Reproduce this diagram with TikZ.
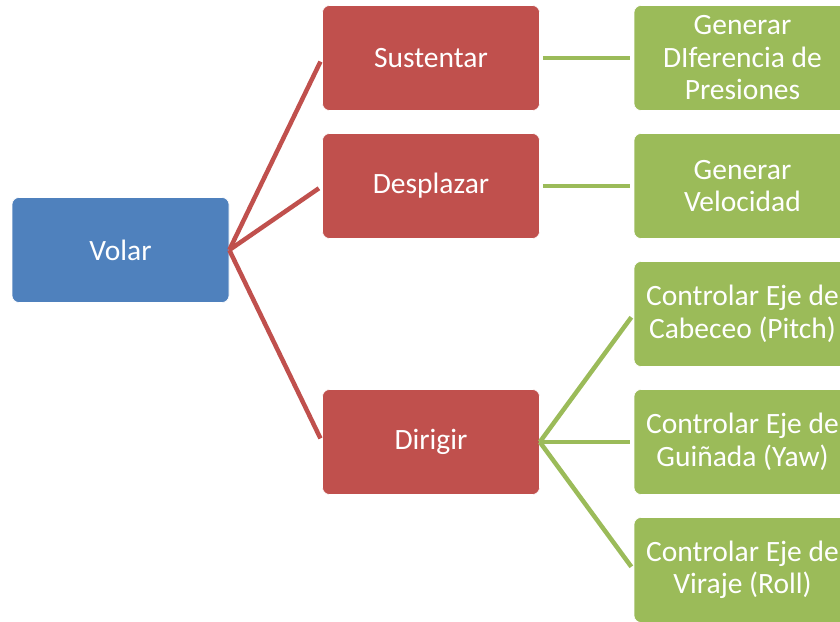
\documentclass[tikz,border=0pt]{standalone}
\usepackage{fontspec}
\setmainfont{Carlito}
\definecolor{cblue}{HTML}{4F81BD}
\definecolor{cred}{HTML}{C0504D}
\definecolor{cgreen}{HTML}{9BBB59}
\begin{document}
\begin{tikzpicture}[x=1pt,y=1pt,
  box/.style={rounded corners=7pt, minimum width=217pt, minimum height=105pt, inner sep=0pt,
    draw=white, line width=0.6pt, text=white, align=center,
    font=\fontsize{29.5}{32.5}\selectfont},
  bluebox/.style={box, fill=cblue},
  redbox/.style={box, fill=cred},
  greenbox/.style={box, fill=cgreen},
  redline/.style={draw=cred, line width=4.5pt, shorten >=4pt},
  greenline/.style={draw=cgreen, line width=4.5pt, shorten >=4pt}
]
\useasboundingbox (0,0) rectangle (840,-621);
\begin{scope}
\clip (0,0) rectangle (840,-621);
\node[bluebox] (volar) at (120.5,-250) {Volar};
\node[redbox] (sust) at (431,-58) {Sustentar};
\node[redbox] (desp) at (431,-186) {Desplazar};
\node[redbox] (dir) at (431,-442) {Dirigir};
\node[greenbox] (g1) at (742.5,-58) {Generar\\DIferencia de\\Presiones};
\node[greenbox] (g2) at (742.5,-186) {Generar\\Velocidad};
\node[greenbox] (g3) at (742.5,-314) {Controlar Eje de\\Cabeceo (Pitch)};
\node[greenbox] (g4) at (742.5,-442) {Controlar Eje de\\Guiñada (Yaw)};
\node[greenbox] (g5) at (742.5,-570) {Controlar Eje de\\Viraje (Roll)};
\end{scope}
\draw[redline] (volar.east) -- (sust.west);
\draw[redline] (volar.east) -- (desp.west);
\draw[redline] (volar.east) -- (dir.west);
\draw[greenline, shorten <=3pt] (sust.east) -- (g1.west);
\draw[greenline, shorten <=3pt] (desp.east) -- (g2.west);
\draw[greenline] (dir.east) -- (g3.west);
\draw[greenline] (dir.east) -- (g4.west);
\draw[greenline] (dir.east) -- (g5.west);
\end{tikzpicture}
\end{document}
